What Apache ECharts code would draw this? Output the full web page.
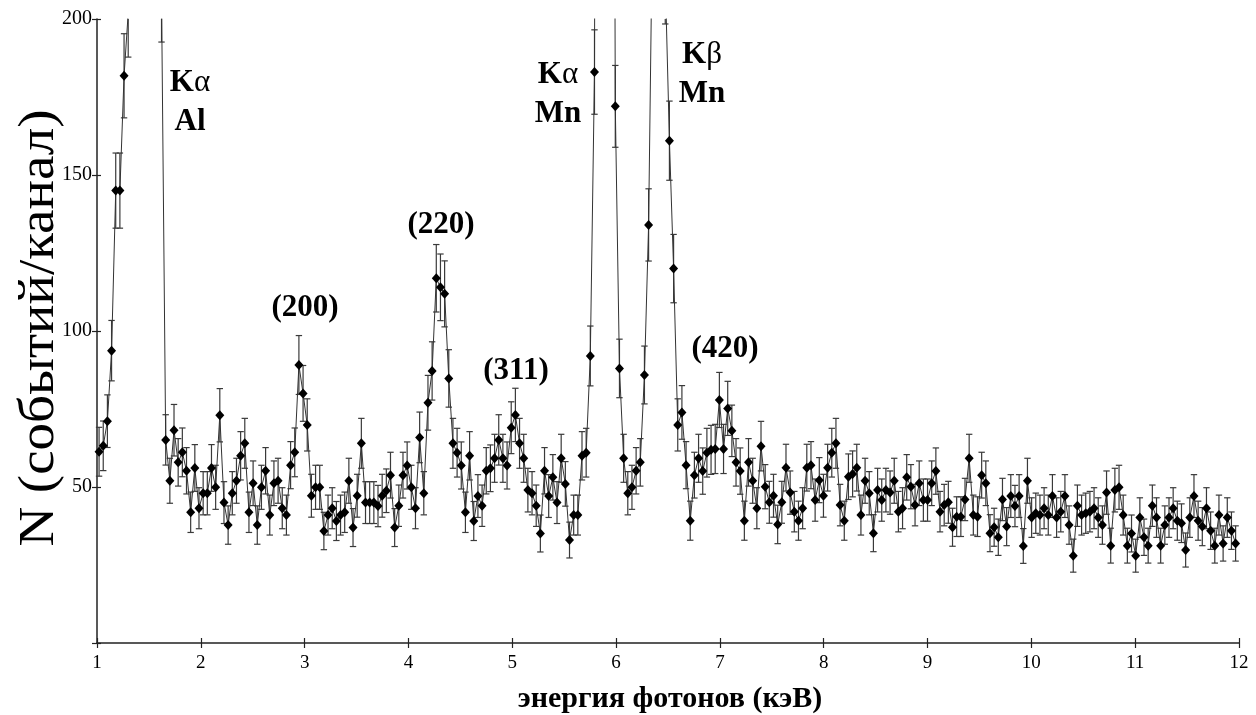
<!DOCTYPE html>
<html>
<head>
<meta charset="utf-8">
<script src="https://cdn.jsdelivr.net/npm/echarts@6/dist/echarts.min.js"></script>
<style>
  html, body { margin: 0; padding: 0; background: #fff; }
  #chart { width: 1256px; height: 715px; }
</style>
</head>
<body>
<div id="chart"></div>
<script>
// Energy calibration of the spectrometer channels (keV)
const channelStart = 1.02;
const channelWidth = 0.0401;

// Counts per channel, 1.02 … 11.97 keV
const counts = [
  // Al Kα region
  61.3, 63.2, 71.1, 93.7, 145, 145, 181.8, 202,
  260, 380, 520, 610, 560, 430, 300, 207,
  // 1.66 – 3.79 keV, (200) reflex
  65.1, 52.0, 68.2, 57.9, 61.1, 55.2, 41.9, 56.1, 43.2, 48.0,
  48.0, 56.1, 49.9, 73.0, 45.0, 37.8, 48.0, 52.0, 60.0, 64.0,
  41.9, 51.2, 37.8, 49.9, 55.2, 41.0, 51.2, 52.0, 43.2, 41.0,
  57.0, 61.1, 89.1, 80.0, 69.9, 47.2, 49.9, 49.9, 35.9, 41.0,
  43.2, 39.1, 41.0, 41.9, 52.0, 37.0, 47.2, 64.0, 45.0, 45.0,
  45.0, 43.9, 47.2, 48.8,
  // 3.83 – 5.70 keV, (220) and (311) reflexes
  53.8, 37.0, 44.0, 53.8, 56.9, 49.9, 43.2, 65.9, 48.0, 77.0,
  87.2, 116.9, 114.0, 111.9, 84.8, 64.0, 61.0, 56.9, 41.9, 60.0,
  39.1, 47.1, 44.0, 55.2, 56.0, 59.2, 65.1, 59.2, 56.9, 69.0,
  73.1, 64.0, 59.2, 49.0, 48.0, 44.0, 35.1, 55.2, 47.1, 53.1,
  45.0, 59.2, 51.0, 33.0, 41.0, 41.0, 60.0, 61.0,
  // Mn Kα and Kβ lines
  92.0, 183.0, 700, 1500, 1450, 600, 172.0, 88.0, 59.2, 48.0,
  49.9, 55.2, 57.9, 85.9, 134.0, 240, 300, 290, 213, 161.0,
  120.0,
  // 6.59 – 9.28 keV, (420) reflex
  69.9, 73.9, 57.0, 39.2, 53.8, 59.2, 55.1, 61.0, 61.9, 62.2,
  77.9, 62.2, 75.2, 68.0, 57.9, 55.1, 39.2, 57.9, 52.0, 43.2,
  63.1, 50.1, 45.1, 47.2, 38.0, 45.1, 56.2, 48.2, 42.1, 39.2,
  43.2, 56.2, 57.0, 45.8, 52.2, 47.2, 56.2, 61.0, 64.0, 44.2,
  39.2, 53.3, 54.2, 56.2, 41.0, 52.0, 48.0, 35.2, 49.0, 45.8,
  49.0, 48.2, 52.0, 42.1, 43.2, 53.1, 50.1, 44.2, 51.2, 45.8,
  45.8, 51.2, 55.1, 42.1, 44.2, 45.1, 37.1, 40.5,
  // 9.32 – 11.97 keV
  40.5, 46.0, 59.2, 41.0, 40.5, 53.8, 51.2, 35.2, 37.1, 33.9,
  46.0, 37.3, 47.1, 43.9, 47.1, 31.1, 52.0, 40.2, 41.6, 41.0,
  43.2, 41.0, 47.1, 40.2, 42.1, 47.1, 37.8, 28.0, 44.0, 41.0,
  41.6, 42.1, 43.2, 40.2, 37.8, 48.2, 31.2, 49.0, 49.9, 41.0,
  31.2, 35.1, 28.0, 40.2, 33.9, 31.2, 44.0, 40.2, 31.2, 37.8,
  40.2, 43.2, 39.2, 38.4, 29.8, 40.2, 47.1, 39.2, 37.3, 43.2,
  36.0, 31.2, 41.0, 31.9, 40.2, 36.0, 31.9
];

// Axis ranges and tick labels
const xTickLabels = ['1','2','3','4','5','6','7','8','9','10','11','12'];
const yTickLabels = ['50','100','150','200'];
const xTitle = 'энергия фотонов (кэВ)';
const yTitle = 'N (событий/канал)';

// Annotations: fluorescence lines and diffraction reflexes
const lineNames = [
  { line: 'α', element: 'Al' },
  { line: 'α', element: 'Mn' },
  { line: 'β', element: 'Mn' }
];
const reflexNames = ['(200)', '(220)', '(311)', '(420)'];

const xMin = Number(xTickLabels[0]), xMax = Number(xTickLabels[xTickLabels.length - 1]);
const yMax = Number(yTickLabels[yTickLabels.length - 1]);

const points = counts.map((n, i) => [channelStart + i * channelWidth, n]);
// Poisson uncertainty: ±√N
const errBars = counts.map((n, i) => {
  const e = Math.sqrt(n);
  return [channelStart + i * channelWidth, n - e, n + e];
});

const serif = '"Liberation Serif", "Times New Roman", serif';
const chart = echarts.init(document.getElementById('chart'), null, { renderer: 'canvas' });

function renderErrorBar(params, api) {
  const x = api.value(0), lo = api.value(1), hi = api.value(2);
  if (lo >= yMax || hi <= 0) return;
  const top = api.coord([x, Math.min(hi, yMax)]);
  const bot = api.coord([x, Math.max(lo, 0)]);
  const hw = 3.2;
  const style = { stroke: '#3a3a3a', lineWidth: 1.2 };
  const children = [
    { type: 'line', shape: { x1: top[0], y1: top[1], x2: bot[0], y2: bot[1] }, style }
  ];
  if (hi <= yMax) children.push({ type: 'line', shape: { x1: top[0] - hw, y1: top[1], x2: top[0] + hw, y2: top[1] }, style });
  if (lo >= 0) children.push({ type: 'line', shape: { x1: bot[0] - hw, y1: bot[1], x2: bot[0] + hw, y2: bot[1] }, style });
  return { type: 'group', children };
}

const labelFont = 'bold 31px ' + serif;
const richLine = {
  k: { font: 'bold 31px ' + serif, fill: '#000' },
  g: { font: '31px ' + serif, fill: '#000' }
};
function lineLabel(item, cx, cy) {
  return [
    { type: 'text', x: cx, y: cy, z: 10,
      style: { text: '{k|K}{g|' + item.line + '}', rich: richLine, textAlign: 'center', textVerticalAlign: 'middle' } },
    { type: 'text', x: cx, y: cy + 39, z: 10,
      style: { text: item.element, font: labelFont, fill: '#000', textAlign: 'center', textVerticalAlign: 'middle' } }
  ];
}
function reflexLabel(text, cx, cy) {
  return { type: 'text', x: cx, y: cy, z: 10,
    style: { text, font: labelFont, fill: '#000', textAlign: 'center', textVerticalAlign: 'middle' } };
}

const axisLineStyle = { color: '#222', width: 1.5 };
const tickStyle = { color: '#222', width: 1.2 };

chart.setOption({
  animation: false,
  backgroundColor: '#fff',
  grid: { left: 97, right: 17, top: 19, bottom: 72, containLabel: false },
  xAxis: [
    {
      type: 'value', min: xMin, max: xMax, interval: 1,
      axisLine: { show: true, onZero: false, lineStyle: axisLineStyle },
      axisTick: { show: true, inside: false, length: 5, lineStyle: tickStyle },
      axisLabel: { show: true, color: '#000', fontFamily: serif, fontSize: 19, margin: 11,
        formatter: v => xTickLabels[Math.round(v) - xMin] ?? '' },
      splitLine: { show: false }
    },
    {
      type: 'value', min: xMin, max: xMax, interval: 1, position: 'bottom',
      axisLine: { show: false },
      axisTick: { show: true, inside: true, length: 5, lineStyle: tickStyle },
      axisLabel: { show: false },
      splitLine: { show: false }
    }
  ],
  yAxis: [
    {
      type: 'value', min: 0, max: yMax, interval: 50, position: 'left',
      axisLine: { show: true, onZero: false, lineStyle: axisLineStyle },
      axisTick: { show: true, inside: false, length: 5, lineStyle: tickStyle },
      axisLabel: { show: true, color: '#000', fontFamily: serif, fontSize: 20, margin: 5,
        formatter: v => yTickLabels.includes(String(v)) ? String(v) : '' },
      splitLine: { show: false }
    },
    {
      type: 'value', min: 0, max: yMax, interval: 50, position: 'left',
      axisLine: { show: false },
      axisTick: { show: true, inside: true, length: 4, lineStyle: tickStyle },
      axisLabel: { show: false },
      splitLine: { show: false }
    }
  ],
  series: [
    {
      type: 'custom',
      name: 'errors',
      xAxisIndex: 0, yAxisIndex: 0,
      renderItem: renderErrorBar,
      encode: { x: 0, y: [1, 2] },
      data: errBars,
      z: 2,
      silent: true
    },
    {
      type: 'line',
      name: 'counts',
      xAxisIndex: 0, yAxisIndex: 0,
      data: points,
      clip: true,
      showSymbol: true,
      symbol: 'diamond',
      symbolSize: [9, 10],
      itemStyle: { color: '#000' },
      lineStyle: { color: '#333', width: 1 },
      z: 3,
      silent: true
    }
  ],
  graphic: [
    ...lineLabel(lineNames[0], 190, 83),
    ...lineLabel(lineNames[1], 558, 75),
    ...lineLabel(lineNames[2], 702, 55),
    reflexLabel(reflexNames[0], 305, 308),
    reflexLabel(reflexNames[1], 441, 225),
    reflexLabel(reflexNames[2], 516, 371),
    reflexLabel(reflexNames[3], 725, 349),
    { type: 'text', x: 670, y: 699,
      style: { text: xTitle, font: 'bold 30px ' + serif, fill: '#000', textAlign: 'center', textVerticalAlign: 'middle' } },
    { type: 'text', x: 40, y: 328, rotation: Math.PI / 2, scaleX: 1.1,
      style: { text: yTitle, font: '50px ' + serif, fill: '#000', textAlign: 'center', textVerticalAlign: 'middle' } }
  ]
});
</script>
</body>
</html>
